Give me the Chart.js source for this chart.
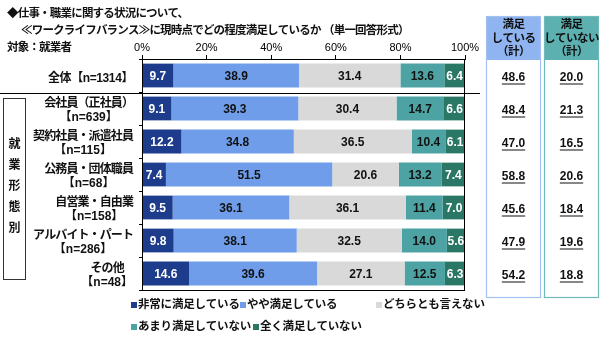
<!DOCTYPE html>
<html lang="ja">
<head>
<meta charset="utf-8">
<script src="https://cdn.jsdelivr.net/npm/chart.js@4/dist/chart.umd.min.js"></script>
<style>
  html, body { margin: 0; padding: 0; background: #fff; }
  #wrap { width: 600px; height: 339px; }
</style>
</head>
<body>
<div id="wrap"><canvas id="wlbChart" width="600" height="339"></canvas></div>
<script>
// Row labels (one array per row, second line = sample size)
const groups = [
  ["全体【n=1314】"],
  ["会社員（正社員）", "【n=639】"],
  ["契約社員・派遣社員", "【n=115】"],
  ["公務員・団体職員", "【n=68】"],
  ["自営業・自由業", "【n=158】"],
  ["アルバイト・パート", "【n=286】"],
  ["その他", "【n=48】"]
];

const seriesNames = ["非常に満足している", "やや満足している", "どちらとも言えない", "あまり満足していない", "全く満足していない"];
const seriesColors = ["#1d3c8c", "#6f9de9", "#d9d9d9", "#4da3a3", "#2b7766"];

// Shares (%) per row
const veryMuch = [9.7, 9.1, 12.2, 7.4, 9.5, 9.8, 14.6];
const somewhat = [38.9, 39.3, 34.8, 51.5, 36.1, 38.1, 39.6];
const neither = [31.4, 30.4, 36.5, 20.6, 36.1, 32.5, 27.1];
const notMuch = [13.6, 14.7, 10.4, 13.2, 11.4, 14.0, 12.5];
const notAtAll = [6.4, 6.6, 6.1, 7.4, 7.0, 5.6, 6.3];

// Summary columns on the right
const satisfiedTotal = ["48.6", "48.4", "47.0", "58.8", "45.6", "47.9", "54.2"];
const dissatisfiedTotal = ["20.0", "21.3", "16.5", "20.6", "18.4", "19.6", "18.8"];

const xTicks = [0, 20, 40, 60, 80, 100];

const JP = '"Liberation Sans", "Noto Sans CJK JP", sans-serif';
const ctx = document.getElementById("wlbChart").getContext("2d");

const seriesData = [veryMuch, somewhat, neither, notMuch, notAtAll];
const datasets = seriesData.map((data, i) => ({
  label: seriesNames[i],
  data: data,
  backgroundColor: seriesColors[i],
  borderWidth: 0,
  barPercentage: 0.72,
  categoryPercentage: 1.0
}));

// values inside the bars, plot frame, separator under 全体
const barDecor = {
  id: "barDecor",
  afterDatasetsDraw(chart) {
    const c = chart.ctx;
    const area = chart.chartArea;
    c.save();
    c.font = "bold 12px " + JP;
    c.textAlign = "center";
    c.textBaseline = "middle";
    chart.data.datasets.forEach((ds, d) => {
      const meta = chart.getDatasetMeta(d);
      meta.data.forEach((bar, i) => {
        c.fillStyle = (d === 0 || d === 4) ? "#fff" : "#111";
        c.fillText(ds.data[i].toFixed(1), (bar.x + bar.base) / 2, bar.y + 1);
      });
    });

    c.strokeStyle = "#000";
    c.lineWidth = 1;
    c.strokeRect(area.left + 0.5, area.top + 0.5, area.right - area.left - 1, area.bottom - area.top);

    const y = chart.scales.y;
    const sepY = Math.round((y.getPixelForValue(0) + y.getPixelForValue(1)) / 2) + 1.5;
    c.beginPath();
    c.moveTo(0, sepY);
    c.lineTo(480, sepY);
    c.stroke();
    c.restore();
  }
};

// tighter spacing for kana/kanji lines, normal for the n= lines
function spacingFor(text) {
  if (text.startsWith("【")) return "0px";
  if (text.includes("【")) return "-0.4px";
  return "-0.9px";
}

// title, row labels, group box, summary columns, legend
const sideText = {
  id: "sideText",
  afterDraw(chart) {
    const c = chart.ctx;
    const y = chart.scales.y;
    c.save();
    c.fillStyle = "#111";
    c.textBaseline = "middle";

    // title
    c.font = "bold 11.5px " + JP;
    c.letterSpacing = "-0.8px";
    c.textAlign = "left";
    c.fillText("◆仕事・職業に関する状況について、", 7, 14);
    c.fillText("≪ワークライフバランス≫に現時点でどの程度満足しているか （単一回答形式）", 21, 31);
    c.fillText("対象：就業者", 7, 48);

    // row labels, block right-aligned, lines centred within block
    c.font = "bold 12px " + JP;
    c.textAlign = "center";
    groups.forEach((lines, i) => {
      const cy = y.getPixelForValue(i);
      const w = Math.max(...lines.map(t => {
        c.letterSpacing = spacingFor(t);
        return c.measureText(t).width;
      }));
      const cx = 133 - w / 2;
      const ys = lines.length === 1 ? [cy + 3] : [cy - 5, cy + 9];
      lines.forEach((t, k) => {
        c.letterSpacing = spacingFor(t);
        c.fillText(t, cx, ys[k]);
      });
    });
    c.letterSpacing = "0px";

    // 就業形態別 box
    c.strokeStyle = "#333";
    c.lineWidth = 1;
    c.strokeRect(3.5, 98.5, 22, 181);
    ["就", "業", "形", "態", "別"].forEach((ch, k) => {
      c.fillText(ch, 14.5, 145 + k * 21);
    });

    // summary columns
    const cols = [
      { x: 486, fill: "#8fb4ef", edge: "#a3c1f0", head: ["満足", "している", "（計）"], vals: satisfiedTotal },
      { x: 544, fill: "#5cb0b0", edge: "#70baba", head: ["満足", "していない", "（計）"], vals: dissatisfiedTotal }
    ];
    cols.forEach(col => {
      const w = 55;
      const mid = col.x + w / 2;
      c.fillStyle = col.fill;
      c.fillRect(col.x, 16, w, 44);
      c.strokeStyle = col.edge;
      c.lineWidth = 1.2;
      c.strokeRect(col.x + 0.5, 16.5, w - 1, 281);
      c.fillStyle = "#111";
      c.font = "bold 11.5px " + JP;
      c.letterSpacing = "-0.5px";
      col.head.forEach((t, k) => c.fillText(t, mid, 25 + k * 13.5));
      c.letterSpacing = "0px";
      c.font = "bold 12px " + JP;
      col.vals.forEach((v, i) => {
        const vy = y.getPixelForValue(i) + 2;
        c.fillText(v, mid, vy);
        const tw = c.measureText(v).width;
        c.fillRect(mid - tw / 2, vy + 6, tw, 1);
      });
    });

    // legend
    const spots = [[131, 305], [240, 305], [376, 305], [131, 327], [253, 327]];
    c.font = "bold 11.5px " + JP;
    c.letterSpacing = "-0.2px";
    c.textAlign = "left";
    spots.forEach((p, i) => {
      c.fillStyle = seriesColors[i];
      c.fillRect(p[0], p[1] - 3, 6, 6);
      c.fillStyle = "#111";
      c.fillText(seriesNames[i], p[0] + 7, p[1]);
    });
    c.restore();
  }
};

const wlbChart = new Chart(ctx, {
  type: "bar",
  data: { labels: groups, datasets: datasets },
  plugins: [barDecor, sideText],
  options: {
    indexAxis: "y",
    responsive: false,
    animation: false,
    layout: { padding: { left: 0, right: 135, top: 0, bottom: 49 } },
    plugins: {
      legend: { display: false },
      tooltip: { enabled: false }
    },
    scales: {
      x: {
        position: "top",
        stacked: true,
        min: 0,
        max: 100,
        afterFit: scale => { scale.height = 59; },
        afterBuildTicks: scale => { scale.ticks = xTicks.map(v => ({ value: v })); },
        ticks: {
          padding: 0,
          color: "#000",
          font: { family: JP, size: 11 },
          callback: v => v + "%"
        },
        grid: { drawOnChartArea: false, drawTicks: true, tickLength: 4, color: "#000" },
        border: { display: true, color: "#000" }
      },
      y: {
        stacked: true,
        afterFit: scale => { scale.width = 142; },
        ticks: { display: false },
        grid: { offset: true, drawOnChartArea: false, drawTicks: true, tickLength: 3, color: "#000" },
        border: { display: true, color: "#000" }
      }
    }
  }
});
</script>
</body>
</html>
